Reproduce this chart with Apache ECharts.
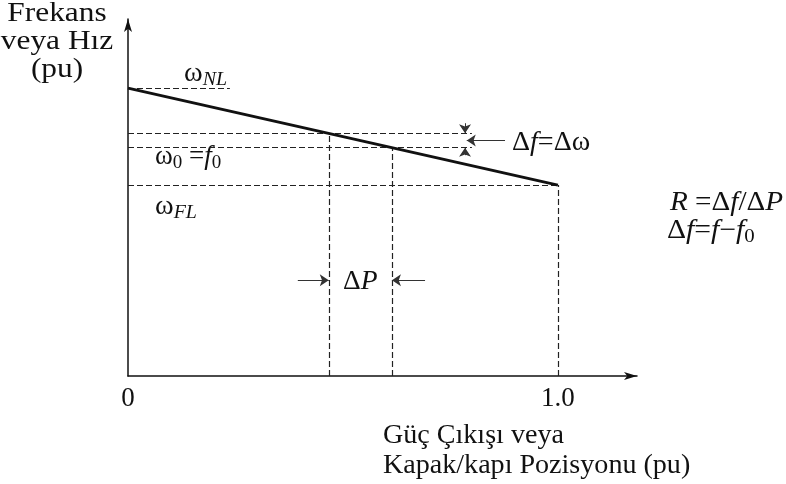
<!DOCTYPE html>
<html>
<head>
<meta charset="utf-8">
<script src="https://cdn.jsdelivr.net/npm/echarts@6/dist/echarts.min.js"></script>
<style>
  html, body { margin: 0; padding: 0; background: #fff; }
  #chart { width: 786px; height: 484px; }
</style>
</head>
<body>
<div id="chart"></div>
<script>
// Speed-droop characteristic of a governor (per-unit)
const xTickValues = [0, 1];
const xTickLabels = ['0', '1.0'];

// Droop line: no-load speed at zero output, full-load speed at rated output
const droopOutput = [0, 1.0];
const droopSpeed = [1.0, 0.663];

// Two operating points on the droop line
const operatingOutput = [0.467, 0.614];
const operatingSpeed = [0.843, 0.793];

// Extent of the short guide lines
const noLoadGuideEnd = 0.237;
const deltaGuideEnd = 0.8;

// Dimension arrows: [fromX, fromY, toX, toY]
const deltaPArrows = [
  [0.395, 0.333, 0.467, 0.333],
  [0.691, 0.333, 0.614, 0.333]
];
const deltaFArrows = [
  [0.784, 0.878, 0.784, 0.843],
  [0.784, 0.767, 0.784, 0.793],
  [0.877, 0.818, 0.788, 0.818]
];

const SERIF = 'Liberation Serif';
const INK = '#111';

const chart = echarts.init(document.getElementById('chart'), null, { renderer: 'canvas' });

const droopData = droopOutput.map((x, i) => [x, droopSpeed[i]]);

const guideLines = [
  [[0, droopSpeed[0]], [noLoadGuideEnd, droopSpeed[0]]],
  [[0, operatingSpeed[0]], [deltaGuideEnd, operatingSpeed[0]]],
  [[0, operatingSpeed[1]], [deltaGuideEnd, operatingSpeed[1]]],
  [[0, droopSpeed[1]], [droopOutput[1], droopSpeed[1]]],
  [[operatingOutput[0], 0], [operatingOutput[0], operatingSpeed[0]]],
  [[operatingOutput[1], 0], [operatingOutput[1], operatingSpeed[1]]],
  [[droopOutput[1], 0], [droopOutput[1], droopSpeed[1]]]
].map(c => ({ coords: c }));

const arrowLines = deltaPArrows.concat(deltaFArrows)
  .map(a => ({ coords: [[a[0], a[1]], [a[2], a[3]]] }));

function txt(x, y, text, sx, opts) {
  return {
    type: 'text',
    x: x,
    y: y,
    scaleX: sx,
    style: Object.assign({
      text: text,
      fontFamily: SERIF,
      fontSize: 27,
      fill: INK,
      textAlign: 'left',
      textVerticalAlign: 'middle'
    }, opts || {})
  };
}

const symRich = {
  m: { fontFamily: SERIF, fontSize: 27, color: INK },
  i: { fontFamily: SERIF, fontSize: 27, fontStyle: 'italic', color: INK },
  s: { fontFamily: SERIF, fontSize: 19, color: INK, padding: [12, 0, 0, 0] },
  si: { fontFamily: SERIF, fontSize: 19, fontStyle: 'italic', color: INK, padding: [12, 0, 0, 0] }
};

chart.setOption({
  animation: false,
  backgroundColor: '#fff',
  grid: { left: 128, right: 149, top: 19, bottom: 108, containLabel: false },
  xAxis: {
    type: 'value',
    min: 0,
    max: 1.184,
    interval: 1,
    axisLine: {
      show: true,
      symbol: ['none', 'arrow'],
      symbolSize: [6, 13],
      lineStyle: { color: INK, width: 1.5 }
    },
    axisTick: { show: false },
    splitLine: { show: false },
    axisLabel: {
      customValues: xTickValues,
      formatter: v => {
        const k = xTickValues.indexOf(v);
        return k >= 0 ? xTickLabels[k] : '';
      },
      margin: 9,
      fontFamily: SERIF,
      fontSize: 27,
      color: INK
    }
  },
  yAxis: {
    type: 'value',
    min: 0,
    max: 1.24,
    axisLine: {
      show: true,
      onZero: false,
      symbol: ['none', 'arrow'],
      symbolSize: [6, 13],
      lineStyle: { color: INK, width: 1.5 }
    },
    axisTick: { show: false },
    splitLine: { show: false },
    axisLabel: { show: false }
  },
  series: [
    {
      name: 'guides',
      type: 'lines',
      coordinateSystem: 'cartesian2d',
      silent: true,
      z: 2,
      lineStyle: { color: '#222', width: 1.2, type: [6, 3], opacity: 1 },
      data: guideLines
    },
    {
      name: 'droop',
      type: 'line',
      data: droopData,
      symbol: 'none',
      z: 3,
      lineStyle: { color: INK, width: 3 }
    },
    {
      name: 'dimension arrows',
      type: 'lines',
      coordinateSystem: 'cartesian2d',
      silent: true,
      z: 4,
      symbol: ['none', 'arrow'],
      symbolSize: [6, 9],
      lineStyle: { color: '#333', width: 1, type: 'solid', opacity: 1 },
      data: arrowLines
    }
  ],
  graphic: [
    txt(57, 0, 'Frekans\nveya Hız\n(pu)', 1.12, {
      fontSize: 28, textAlign: 'center', textVerticalAlign: 'top', lineHeight: 28
    }),
    txt(184, 74, '{m|ω}{si|NL}', 1.05, { rich: symRich }),
    txt(155, 157, '{m|ω}{s|0}{m| =}{i|f}{s|0}', 1.0, { rich: symRich }),
    txt(155, 207, '{m|ω}{si|FL}', 1.05, { rich: symRich }),
    txt(512, 143, '{m|Δ}{i|f}{m|=Δω}', 1.04, { rich: symRich }),
    txt(343, 282, '{m|Δ}{i|P}', 1.02, { rich: symRich }),
    txt(670, 203, '{i|R}{m| =Δ}{i|f}{m|/Δ}{i|P}', 1.08, { rich: symRich }),
    txt(667, 231, '{m|Δ}{i|f}{m|=}{i|f}{m|−}{i|f}{s|0}', 1.1, { rich: symRich }),
    txt(383, 421, 'Güç Çıkışı veya\nKapak/kapı Pozisyonu (pu)', 1.04, {
      textVerticalAlign: 'top', lineHeight: 30
    })
  ]
});
</script>
</body>
</html>
